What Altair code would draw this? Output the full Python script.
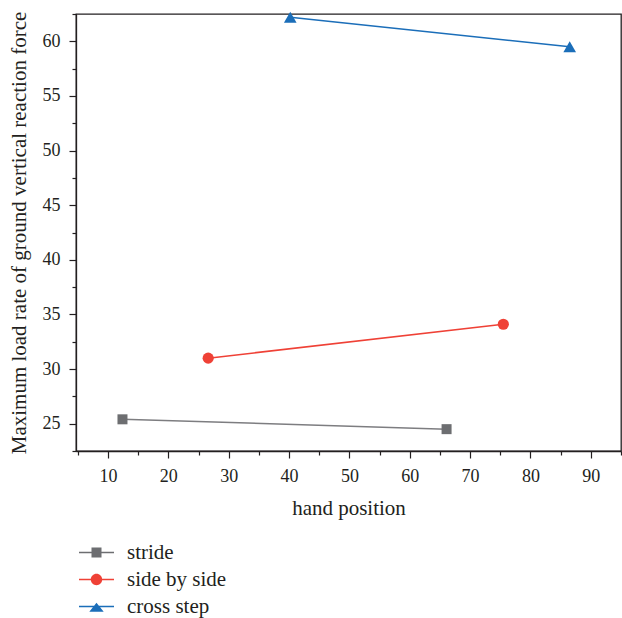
import altair as alt
import pandas as pd

series_names = ["stride", "side by side", "cross step"]
series = ["stride", "stride", "side by side", "side by side", "cross step", "cross step"]
hand_position = [12.4, 66.1, 26.6, 75.5, 40.2, 86.5]
load_rate = [25.4, 24.5, 31.0, 34.1, 62.2, 59.5]
colors = ["#6d6e71", "#ef4136", "#1b6eb9"]
line_colors = ["#7d7d80", "#ef4136", "#1b6eb9"]
marker_shapes = ["square", "circle", "triangle-up"]
marker_sizes = [100, 125, 160]
x_major = [10, 20, 30, 40, 50, 60, 70, 80, 90]
x_minor = [5, 15, 25, 35, 45, 55, 65, 75, 85, 95]
y_major = [25, 30, 35, 40, 45, 50, 55, 60]
y_minor = [22.5, 27.5, 32.5, 37.5, 42.5, 47.5, 52.5, 57.5, 62.5]

df = pd.DataFrame({"series": series, "hand": hand_position, "rate": load_rate})

FONT = "Liberation Serif"
INK = "#231f20"

legend_paths = [
    "M-1.75,-0.075H1.75V0.075H-1.75Z M-0.5,-0.5H0.5V0.5H-0.5Z",
    "M-1.75,-0.075H1.75V0.075H-1.75Z M-0.57,0 A0.57,0.57 0 1,1 0.57,0 A0.57,0.57 0 1,1 -0.57,0 Z",
    "M-1.75,-0.075H1.75V0.075H-1.75Z M0,-0.38 L0.72,0.52 L-0.72,0.52 Z",
]

x_scale = alt.Scale(domain=[4.7, 95], nice=False, zero=False)
y_scale = alt.Scale(domain=[22.5, 62.5], nice=False, zero=False)

x_major_axis = alt.Axis(
    title="hand position", values=x_major, tickSize=7, grid=False,
    labelPadding=9, titlePadding=12, orient="bottom",
)
y_major_axis = alt.Axis(
    title="Maximum load rate of ground vertical reaction force", values=y_major,
    tickSize=7, grid=False, labelPadding=9, titlePadding=13, orient="left",
)
x_minor_axis = alt.Axis(values=x_minor, tickSize=4, labels=False, domain=False,
                        title=None, grid=False, orient="bottom")
y_minor_axis = alt.Axis(values=y_minor, tickSize=4, labels=False, domain=False,
                        title=None, grid=False, orient="left")

base = alt.Chart(df)

data_layers = []
for i, (name, col, lcol, shp, sz) in enumerate(zip(series_names, colors, line_colors, marker_shapes, marker_sizes)):
    sub = base.transform_filter(alt.datum.series == name)
    if i == 0:
        xe = alt.X("hand:Q", scale=x_scale, axis=x_major_axis)
        ye = alt.Y("rate:Q", scale=y_scale, axis=y_major_axis)
    else:
        xe = alt.X("hand:Q")
        ye = alt.Y("rate:Q")
    data_layers.append(sub.mark_line(color=lcol, strokeWidth=1.5).encode(x=xe, y=ye))
    data_layers.append(
        sub.mark_point(shape=shp, filled=True, size=sz, opacity=1, color=col)
        .encode(x=alt.X("hand:Q"), y=alt.Y("rate:Q"))
    )

legend_layer = base.transform_filter("false").mark_point(filled=True, opacity=1).encode(
    x=alt.X("hand:Q"), y=alt.Y("rate:Q"),
    color=alt.Color("series:N", scale=alt.Scale(domain=series_names, range=colors),
                    legend=alt.Legend(
                        orient="none", legendX=10, legendY=528, direction="vertical", title=None,
                        symbolSize=400, symbolStrokeWidth=0, labelOffset=20, rowPadding=5,
                        labelFont=FONT, labelFontSize=21, labelColor=INK,
                    )),
    shape=alt.Shape("series:N", scale=alt.Scale(domain=series_names, range=legend_paths)),
)

main = alt.layer(*data_layers, legend_layer)

minor = base.mark_point(opacity=0).encode(
    x=alt.X("hand:Q", axis=x_minor_axis),
    y=alt.Y("rate:Q", axis=y_minor_axis),
)

chart = alt.layer(main, minor).resolve_axis(x="independent", y="independent").properties(
    width=545, height=437,
    autosize=alt.AutoSizeParams(type="none"),
    padding={"left": 76, "top": 14, "right": 1, "bottom": 167},
).configure_view(
    stroke=INK, strokeWidth=1.3
).configure_axis(
    domainColor=INK, domainWidth=1.3, tickColor=INK, tickWidth=1.2,
    labelFont=FONT, labelFontSize=18, labelColor=INK,
    titleFont=FONT, titleFontSize=21, titleFontWeight="normal", titleColor=INK,
)

chart.save("out.html", embed_options={"renderer": "svg", "actions": False})
